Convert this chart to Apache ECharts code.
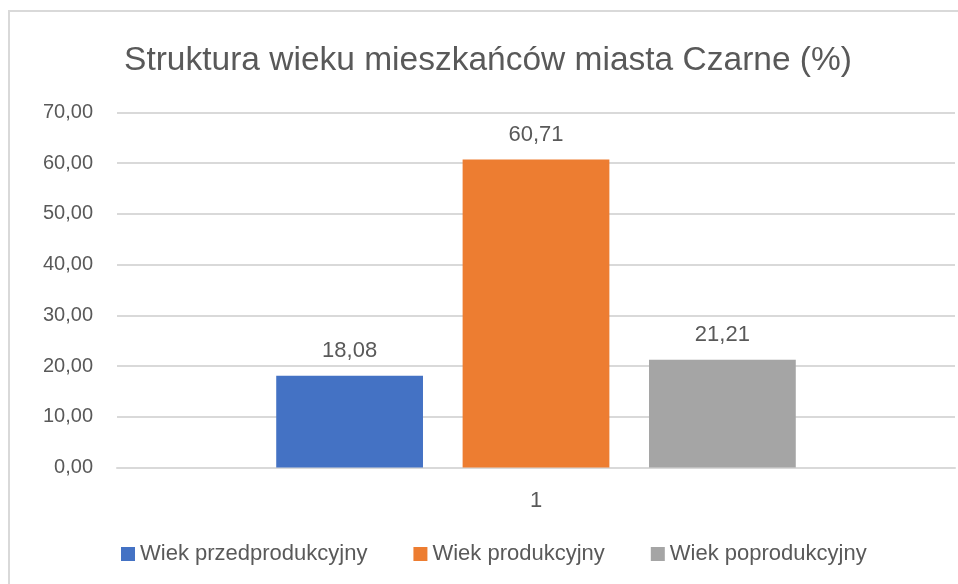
<!DOCTYPE html>
<html>
<head>
<meta charset="utf-8">
<script src="https://cdn.jsdelivr.net/npm/echarts@6/dist/echarts.min.js"></script>
<style>
html,body{margin:0;padding:0;background:#fff;}
#chart{width:958px;height:584px;}
</style>
</head>
<body>
<div id="chart"></div>
<script>
const titleText = 'Struktura wieku mieszkańców miasta Czarne (%)';
const categories = ['1'];
const seriesNames = ['Wiek przedprodukcyjny', 'Wiek produkcyjny', 'Wiek poprodukcyjny'];
const przedprodukcyjny = [18.08];
const produkcyjny = [60.71];
const poprodukcyjny = [21.21];
const seriesColors = ['#4472C4', '#ED7D31', '#A5A5A5'];

const fmt = v => Number(v).toFixed(2).replace('.', ',');
const FONT = 'Liberation Sans';
const TXT = '#595959';

const chart = echarts.init(document.getElementById('chart'), null, {renderer: 'canvas'});
const values = [przedprodukcyjny, produkcyjny, poprodukcyjny];

chart.setOption({
  animation: false,
  backgroundColor: '#fff',
  graphic: [{
    type: 'rect',
    shape: {x: 9, y: 11, width: 1000, height: 1000},
    style: {fill: 'none', stroke: '#d9d9d9', lineWidth: 2},
    silent: true, z: -1
  }],
  title: {
    text: titleText,
    left: 483,
    textAlign: 'center',
    top: 39,
    textStyle: {fontFamily: FONT, fontSize: 33.5, fontWeight: 'normal', color: TXT}
  },
  legend: {
    data: seriesNames,
    left: 116,
    top: 538,
    icon: 'rect',
    itemWidth: 14,
    itemHeight: 14,
    itemGap: 46,
    textStyle: {fontFamily: FONT, fontSize: 22, color: TXT}
  },
  grid: {left: 117, right: 3, top: 112.3, bottom: 116.5, containLabel: false},
  xAxis: {
    type: 'category',
    data: categories,
    axisTick: {show: false},
    axisLine: {lineStyle: {color: '#d9d9d9', width: 2}},
    axisLabel: {fontFamily: FONT, fontSize: 22, color: TXT, margin: 22}
  },
  yAxis: {
    type: 'value',
    min: 0, max: 70, interval: 10,
    axisLine: {show: false},
    axisTick: {show: false},
    splitLine: {lineStyle: {color: '#d9d9d9', width: 2}},
    axisLabel: {fontFamily: FONT, fontSize: 20, color: TXT, margin: 24, formatter: fmt}
  },
  series: seriesNames.map((n, i) => ({
    name: n,
    type: 'bar',
    data: values[i],
    barGap: '27%',
    barCategoryGap: '38%',
    itemStyle: {color: seriesColors[i]},
    label: {
      show: true, position: 'top', distance: 14,
      fontFamily: FONT, fontSize: 22, color: TXT,
      formatter: p => fmt(p.value)
    }
  }))
});
</script>
</body>
</html>
